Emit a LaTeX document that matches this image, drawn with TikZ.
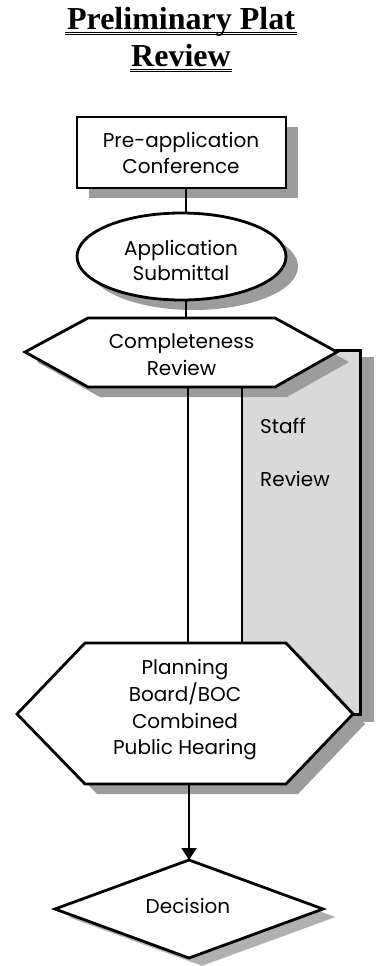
\documentclass[tikz,border=0pt]{standalone}
\usepackage{fontspec}
\setmainfont{Liberation Serif}
\newfontfamily\geofam{Poppins}
\usetikzlibrary{shapes.geometric,arrows.meta}
\definecolor{shadowgray}{HTML}{9C9C9C}
\definecolor{staffgray}{HTML}{D9D9D9}
\definecolor{dshadow}{HTML}{B0B0B0}
\newcommand{\bodyfnt}{\geofam\fontsize{20}{25.5}\selectfont}
\newcommand{\ttlfnt}{\rmfamily\bfseries\fontsize{32}{38}\selectfont}
\begin{document}
\begin{tikzpicture}[x=1pt,y=-1pt,
  shapeline/.style={draw=black, line width=2.8pt, fill=white, line join=miter},
  conn/.style={draw=black, line width=2pt},
  txt/.style={inner sep=0pt, align=center, font=\bodyfnt},
  ttl/.style={inner sep=0pt, anchor=base, font=\ttlfnt},
  uline/.style={draw=black, line width=1pt}]
\useasboundingbox (0,0) rectangle (376,966);
\fill[white] (0,0) rectangle (376,966);

% title
\node[ttl] (t1) at (181,29.3) {Preliminary Plat};
\node[ttl] (t2) at (181,66.7) {Review};
\draw[uline] ([xshift=-2pt,yshift=-3pt]t1.base west) -- ([xshift=2pt,yshift=-3pt]t1.base east);
\draw[uline] ([xshift=-2pt,yshift=-5pt]t1.base west) -- ([xshift=2pt,yshift=-5pt]t1.base east);
\draw[uline] ([xshift=-1pt,yshift=-3pt]t2.base west) -- ([xshift=1pt,yshift=-3pt]t2.base east);
\draw[uline] ([xshift=-1pt,yshift=-5pt]t2.base west) -- ([xshift=1pt,yshift=-5pt]t2.base east);

% staff review band (shadow + fill)
\fill[shadowgray] (255,357) rectangle (374,722);
\node[fill=staffgray, draw=none, minimum width=118pt, minimum height=363.5pt, inner sep=0pt, anchor=north west] (staff) at (242,350.5) {};

% shadows of the flow shapes
\fill[shadowgray] (89,127) rectangle (298,198);
\fill[shadowgray] (193.5,266.5) ellipse [x radius=104.5pt, y radius=43.5pt];
\fill[shadowgray, shift={(12,10)}] (25,352) -- (88,318) -- (275,318) -- (337,352) -- (275,387) -- (88,387) -- cycle;
\fill[shadowgray, shift={(12,10)}] (17,714) -- (85,643) -- (286,643) -- (353,714) -- (286,784) -- (85,784) -- cycle;
\filldraw[fill=dshadow, draw=white, densely dotted, line width=0.6pt, shift={(13,8)}] (55,909) -- (189,860) -- (323,909) -- (189,958) -- cycle;

% staff band border
\draw[line width=2.4pt] (staff.north west) rectangle (staff.south east);

% flow shapes
\node[shapeline, rectangle, minimum width=209pt, minimum height=71pt, inner sep=0pt] (box1) at (181.5,152.5) {};
\node[shapeline, ellipse, minimum width=209pt, minimum height=87pt, inner sep=0pt] (ell) at (181.5,256.5) {};
\draw[shapeline] (25,352) -- (88,318) -- (275,318) -- (337,352) -- (275,387) -- (88,387) -- cycle;
\coordinate (hex1n) at (186,318);
\coordinate (hex1s) at (187.5,387);
\draw[shapeline] (17,714) -- (85,643) -- (286,643) -- (353,714) -- (286,784) -- (85,784) -- cycle;
\coordinate (hex2n) at (187.5,643);
\coordinate (hex2s) at (189,784);
\draw[shapeline] (55,909) -- (189,860) -- (323,909) -- (189,958) -- cycle;
\coordinate (dian) at (189,860);

% connectors
\draw[conn] ([xshift=4.5pt]box1.south) -- ([xshift=4.5pt]ell.north);
\draw[conn] ([xshift=4.5pt]ell.south) -- (hex1n);
\draw[conn] (hex1s) -- (hex2n);
\draw[conn, -{Triangle[length=12pt,width=15pt]}] (hex2s) -- (dian);

% texts
\node[txt] (box1t) at (181,152.75) {Pre-application\\Conference};
\node[txt] (ellt) at (181,260.5) {Application\\Submittal};
\node[txt] (hex1t) at (181.5,354.5) {Completeness\\[1.5pt]Review};
\node[txt] (hex2t) at (185,710) {Planning\\[1.2pt]Board/BOC\\[1.2pt]Combined\\[1.2pt]Public Hearing};
\node[txt, align=left, anchor=west] (stafft) at (260,452.5) {Staff\\[28pt]Review};
\node[txt] (dect) at (188,906) {Decision};
\end{tikzpicture}
\end{document}
